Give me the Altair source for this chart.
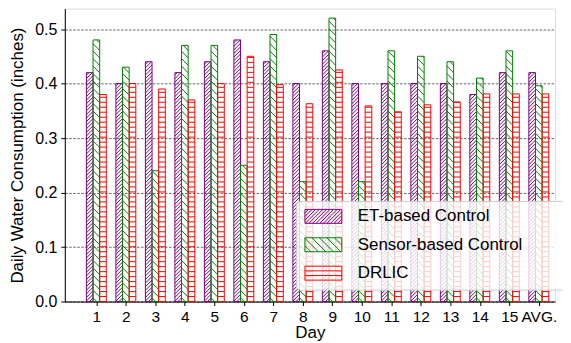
import altair as alt
import pandas as pd

days = [str(i) for i in range(1, 16)] + ["AVG."]
series = ["ET-based Control", "Sensor-based Control", "DRLIC"]
colors = ["#800080", "#008000", "#ff0000"]

et_based = [0.42, 0.40, 0.44, 0.42, 0.44, 0.48, 0.44, 0.40, 0.46, 0.40, 0.40, 0.40, 0.40, 0.38, 0.42, 0.42]
sensor_based = [0.48, 0.43, 0.24, 0.47, 0.47, 0.25, 0.49, 0.22, 0.52, 0.22, 0.46, 0.45, 0.44, 0.41, 0.46, 0.396]
drlic = [0.38, 0.40, 0.39, 0.37, 0.40, 0.45, 0.398, 0.363, 0.425, 0.359, 0.348, 0.361, 0.366, 0.381, 0.381, 0.381]

# layout (pixels)
PW, PH = 492, 294
XMIN, XMAX = -0.07, 16.55
YMAX = 0.5375
SX = PW / (XMAX - XMIN)
SY = PH / YMAX
BW = 0.225
offsets = [-BW, 0.0, BW]
spacing = [3.6, 7.5, 5.0]  # hatch spacing in px

bar_rows, hatch_rows = [], []
for si, (name, vals) in enumerate(zip(series, [et_based, sensor_based, drlic])):
    for di, v in enumerate(vals):
        pos = di + 1
        xl = pos + offsets[si] - BW / 2
        xr = xl + BW
        bar_rows.append(dict(series=name, x=xl, x2=xr, y=v))
        bw = BW * SX
        H = v * SY
        d = spacing[si]
        segs = []
        if si == 0:  # "/" lines: y = t + c
            c = -bw
            while c < H:
                ta, tb = max(0.0, -c), min(bw, H - c)
                if tb > ta:
                    segs.append((ta, c + ta, tb, c + tb))
                c += d
        elif si == 1:  # "\" lines: y = c - t
            c = d / 2
            while c < H + bw:
                ta, tb = max(0.0, c - H), min(bw, c)
                if tb > ta:
                    segs.append((ta, c - ta, tb, c - tb))
                c += d
        else:  # horizontal lines
            yy = d
            while yy < H:
                segs.append((0.0, yy, bw, yy))
                yy += d
        for (a, ya, b, yb) in segs:
            hatch_rows.append(dict(series=name, hx=xl + a / SX, hy=ya / SY,
                                   hx2=xl + b / SX, hy2=yb / SY))

bars_df = pd.DataFrame(bar_rows)
hatch_df = pd.DataFrame(hatch_rows)

# legend symbol paths (custom SVG paths, unit r = 7px)
R = 7.0
A, B = 18.5, 7.0


def sym_path(kind, d):
    f = lambda v: f"{v / R:.3f}"
    p = f"M{f(-A)},{f(-B)}L{f(A)},{f(-B)}L{f(A)},{f(B)}L{f(-A)},{f(B)}Z"
    if kind == 0:  # "/" : y = c - x
        c = -A - B + d
        while c < A + B:
            x0, x1 = max(-A, c - B), min(A, c + B)
            if x1 > x0:
                p += f"M{f(x0)},{f(c - x0)}L{f(x1)},{f(c - x1)}"
            c += d
    elif kind == 1:  # "\" : y = x + c
        c = -A - B + d
        while c < A + B:
            x0, x1 = max(-A, -B - c), min(A, B - c)
            if x1 > x0:
                p += f"M{f(x0)},{f(x0 + c)}L{f(x1)},{f(x1 + c)}"
            c += d
    else:
        yy = -B + d
        while yy < B - 0.5:
            p += f"M{f(-A)},{f(yy)}L{f(A)},{f(yy)}"
            yy += d
    return p


paths = [sym_path(0, 3.6), sym_path(1, 7.5), sym_path(2, 4.7)]
legend_df = pd.DataFrame({"series": series, "x": [0.0] * 3, "y": [0.0] * 3})

FONT = "Liberation Sans"
label_expr = "[" + ",".join(f"'{d}'" for d in days) + "][datum.value - 1]"
PAD = "\u2800" * 3  # blank (non-whitespace) padding to widen the legend frame

xscale = alt.Scale(domain=[XMIN, XMAX], nice=False, zero=False)
yscale = alt.Scale(domain=[0, YMAX], nice=False)
cscale = alt.Scale(domain=series, range=colors)

xaxis = alt.Axis(values=list(range(1, 17)), labelExpr=label_expr, title="Day", grid=False,
                 labelOverlap=False, labelFontSize=15.5, titleFontSize=17, labelPadding=4,
                 titleY=23.5, titleBaseline="top",
                 tickSize=4, tickColor="black", domainColor="black",
                 labelColor="black", titleColor="black", labelFont=FONT, titleFont=FONT,
                 titleFontWeight="normal")
yaxis = alt.Axis(values=[0, 0.1, 0.2, 0.3, 0.4, 0.5], format=".1f",
                 title="Daily Water Consumption (inches)", grid=True, gridDash=[2.5, 1.5],
                 gridColor="#666666", gridWidth=1, labelFontSize=16, titleFontSize=17,
                 labelPadding=4, titleX=-42.5, titleY=PH / 2, titleBaseline="alphabetic",
                 tickSize=4, tickColor="black",
                 domainColor="black", labelColor="black", titleColor="black",
                 labelFont=FONT, titleFont=FONT, titleFontWeight="normal")

layers = []
for si, name in enumerate(series):
    h = alt.Chart(hatch_df[hatch_df.series == name]).mark_rule(
        strokeWidth=1, color=colors[si]).encode(
        x=alt.X("hx:Q", scale=xscale, axis=xaxis),
        x2="hx2:Q",
        y=alt.Y("hy:Q", scale=yscale, axis=yaxis),
        y2="hy2:Q",
    )
    b = alt.Chart(bars_df[bars_df.series == name]).mark_rect(
        fillOpacity=0, strokeWidth=1, stroke=colors[si]).encode(
        x=alt.X("x:Q", scale=xscale, axis=xaxis),
        x2="x2:Q",
        y=alt.Y("y:Q", scale=yscale, axis=yaxis),
        y2=alt.datum(0),
    )
    layers += [h, b]

leg = alt.Legend(title=None, orient="none", legendX=232, legendY=193,
                 labelFont=FONT, labelFontSize=17, labelColor="black",
                 labelExpr=f"datum.label + '{PAD}'", labelLimit=400,
                 symbolSize=196, symbolStrokeWidth=1, symbolOpacity=1,
                 symbolOffset=12, labelOffset=26, rowPadding=9.5, padding=7,
                 fillColor="rgba(255,255,255,0.8)", strokeColor="#cccccc", cornerRadius=4,
                 symbolFillColor="transparent")

legend_layer = alt.Chart(legend_df).mark_point(filled=False, opacity=0).encode(
    x=alt.X("x:Q", scale=xscale, axis=xaxis),
    y=alt.Y("y:Q", scale=yscale, axis=yaxis),
    color=alt.Color("series:N", scale=cscale, legend=leg, sort=series),
    shape=alt.Shape("series:N", scale=alt.Scale(domain=series, range=paths), legend=leg, sort=series),
)
layers.append(legend_layer)

chart = alt.layer(*layers).properties(
    width=PW, height=PH,
    autosize=alt.AutoSizeParams(type="none"),
    padding={"left": 57, "top": 0, "right": 8, "bottom": 40},
).configure_view(stroke="black", strokeWidth=1).configure(background="white")

chart.save("out.html", embed_options={"renderer": "svg", "actions": False})
